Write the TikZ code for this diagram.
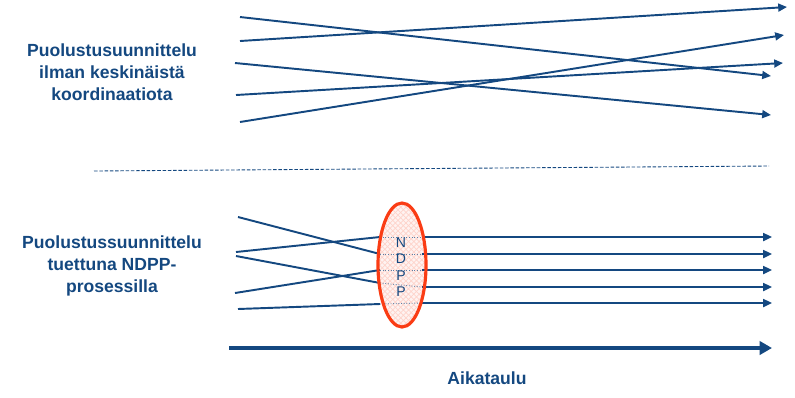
\documentclass[tikz,border=0pt]{standalone}
\usepackage{fontspec}
\setmainfont{Liberation Sans}
\usetikzlibrary{arrows.meta,patterns,shapes.geometric}

\definecolor{navy}{RGB}{20,72,128}
\definecolor{ndppred}{RGB}{250,60,20}

\tikzset{
  plan/.style={navy, line width=1.1pt, -{Triangle[length=5pt,width=4.5pt]}},
  feed/.style={navy, line width=1.1pt},
  seam/.style={navy!70, densely dotted, line width=0.5pt},
  title/.style={navy, font=\bfseries\fontsize{10}{12.5}\selectfont, align=center},
}

\begin{document}
\begin{tikzpicture}[x=0.02cm, y=-0.02cm]
  \useasboundingbox (0,0) rectangle (795,397);

  % without coordination
  \node[title] (free) at (112,72) {Puolustusuunnittelu\\ilman keskinäistä\\koordinaatiota};
  \coordinate (a1) at (240,17);  \coordinate (b1) at (771,76);
  \coordinate (a2) at (240,41);  \coordinate (b2) at (787,7);
  \coordinate (a3) at (235,63);  \coordinate (b3) at (771,115);
  \coordinate (a4) at (236,95);  \coordinate (b4) at (783,63);
  \coordinate (a5) at (240,122); \coordinate (b5) at (784,35);
  \foreach \i in {1,...,5}
    \draw[plan] (a\i) -- (b\i);

  \coordinate (sepl) at (94,171);
  \coordinate (sepr) at (769,166);
  \draw[navy, line width=0.5pt, dash pattern=on 2pt off 1pt] (sepl) -- (sepr);

  % with the NDPP process
  \node[title] (ndppt) at (112,266) {Puolustussuunnittelu\\tuettuna NDPP-\\prosessilla};
  \node[ellipse, minimum width=0.96cm, minimum height=2.48cm, inner sep=0pt,
        preaction={fill=ndppred!6}, pattern=crosshatch, pattern color=ndppred!22]
        (ring) at (402,265) {};

  \coordinate (s1) at (238,217); \coordinate (i2) at (380,254);
  \coordinate (s2) at (236,252); \coordinate (i1) at (380,237);
  \coordinate (s3) at (236,256); \coordinate (i4) at (380,283);
  \coordinate (s4) at (235,293); \coordinate (i3) at (380,270);
  \coordinate (s5) at (238,309); \coordinate (i5) at (380,304);
  \draw[feed] (s1) -- (i2);
  \draw[feed] (s2) -- (i1);
  \draw[feed] (s3) -- (i4);
  \draw[feed] (s4) -- (i3);
  \draw[feed] (s5) -- (i5);

  \coordinate (o1) at (422,237); \coordinate (e1) at (772,237);
  \coordinate (o2) at (422,254); \coordinate (e2) at (772,254);
  \coordinate (o3) at (422,270); \coordinate (e3) at (772,270);
  \coordinate (o4) at (422,287); \coordinate (e4) at (772,287);
  \coordinate (o5) at (422,303); \coordinate (e5) at (772,303);
  \foreach \i in {1,...,5} {
    \draw[seam] (i\i) -- (o\i);
    \draw[plan] (o\i) -- (e\i);
  }

  \node[navy, font=\fontsize{8}{9.4}\selectfont, align=center, inner sep=0pt]
        (ndpp) at (401,267) {N\\D\\P\\P};
  \draw[ndppred, line width=1.8pt] (ring.center) ellipse (24 and 62);

  % time line
  \coordinate (t0) at (229,348);
  \coordinate (t1) at (772,348);
  \draw[navy, line width=2.6pt, -{Triangle[length=7pt,width=7.5pt]}] (t0) -- (t1);
  \node[title] (time) at (487,378) {Aikataulu};
\end{tikzpicture}
\end{document}
